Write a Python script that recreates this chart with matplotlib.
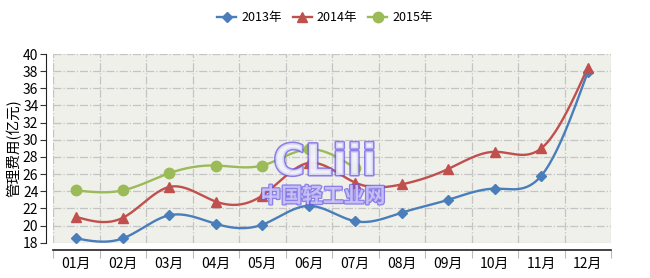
import numpy as np
import matplotlib
matplotlib.use("Agg")
import matplotlib.pyplot as plt
import matplotlib.patheffects as pe

plt.rcParams['font.family'] = ['Noto Sans CJK SC', 'DejaVu Sans']

months = ['01月', '02月', '03月', '04月', '05月', '06月', '07月', '08月', '09月', '10月', '11月', '12月']
series_names = ['2013年', '2014年', '2015年']
v2013 = [18.5, 18.5, 21.2, 20.2, 20.1, 22.3, 20.5, 21.5, 23.0, 24.3, 25.8, 37.9]
v2014 = [21.0, 20.9, 24.5, 22.8, 23.5, 27.3, 25.0, 24.8, 26.6, 28.6, 29.0, 38.4]
v2015 = [24.1, 24.1, 26.1, 27.0, 27.0, 28.9, 26.7]
yticks = list(range(18, 41, 2))
ylabel = '管理费用(亿元)'

colors = ['#4A7EBB', '#C0504D', '#9BBB59']
markers = ['D', '^', 'o']
msizes = [5, 7, 7.5]


def smooth(x, y, n=24):
    """Natural cubic spline through the data points, used only to draw the curve."""
    x = np.asarray(x, float); y = np.asarray(y, float)
    k = len(x)
    h = np.diff(x)
    A = np.zeros((k, k)); b = np.zeros(k)
    A[0, 0] = 1; A[-1, -1] = 1
    for i in range(1, k - 1):
        A[i, i - 1] = h[i - 1]; A[i, i] = 2 * (h[i - 1] + h[i]); A[i, i + 1] = h[i]
        b[i] = 3 * ((y[i + 1] - y[i]) / h[i] - (y[i] - y[i - 1]) / h[i - 1])
    c = np.linalg.solve(A, b)
    xs, ys = [], []
    for i in range(k - 1):
        bi = (y[i + 1] - y[i]) / h[i] - h[i] * (2 * c[i] + c[i + 1]) / 3
        di = (c[i + 1] - c[i]) / (3 * h[i])
        t = np.linspace(0, h[i], n, endpoint=(i == k - 2))
        xs.append(x[i] + t)
        ys.append(y[i] + bi * t + c[i] * t ** 2 + di * t ** 3)
    return np.concatenate(xs), np.concatenate(ys)


fig = plt.figure(figsize=(6.5, 2.78), dpi=100)
ax = fig.add_axes([53 / 650, (278 - 242.7) / 278, (611 - 53) / 650, (242.7 - 54) / 278])
ax.set_facecolor('#F0F0EA')

for vals, name, c, m, ms in zip([v2013, v2014, v2015], series_names, colors, markers, msizes):
    x = np.arange(len(vals))
    sx, sy = smooth(x, vals)
    ax.plot(sx, sy, color=c, lw=1.7, zorder=3, solid_capstyle='round')
    ax.plot(x, vals, linestyle='none', marker=m, ms=ms, color=c, zorder=4)
    ax.plot([], [], color=c, lw=1.7, marker=m, ms=ms, label=name)

ax.set_xlim(-0.5, len(months) - 0.5)
ax.set_ylim(18, 40)
ax.set_yticks(yticks)
ax.set_yticklabels([str(t) for t in yticks], fontsize=9.5)
ax.set_xticks(np.arange(len(months) + 1) - 0.5)
ax.set_xticklabels([])
ax.set_xticks(np.arange(len(months)), minor=True)
ax.set_xticklabels(months, minor=True, fontsize=9.5)
ax.tick_params(axis='x', which='major', direction='out', length=6, color='#BBBBBB')
ax.tick_params(axis='x', which='minor', length=0, pad=5)
ax.tick_params(axis='y', direction='out', length=4, color='#333333', pad=1.5)

ax.grid(True, which='major', color='#C4C4C4', linestyle='-.', linewidth=0.9)
ax.set_axisbelow(True)

for s in ['top', 'right']:
    ax.spines[s].set_visible(False)
ax.spines['left'].set_position(('outward', 5))
ax.spines['bottom'].set_position(('outward', 5))
ax.spines['left'].set_color('#222222')
ax.spines['bottom'].set_color('#222222')
ax.spines['bottom'].set_linewidth(1.2)

ax.set_ylabel(ylabel, fontsize=10.5, labelpad=1)

leg = fig.legend(loc='center', bbox_to_anchor=(0.5, 1 - 18 / 278), ncol=3, frameon=False,
                 fontsize=9, handlelength=1.5, columnspacing=0.9, handletextpad=0.4)

# watermark
fig.text(325 / 650, 1 - 163 / 278, 'CLiii', fontsize=31, fontweight='bold', color='#F2F2FA', alpha=0.75,
         ha='center', va='center', family='DejaVu Sans', zorder=10,
         path_effects=[pe.withStroke(linewidth=2.2, foreground='#6A5AE8')])
fig.text(323 / 650, 1 - 196 / 278, '中国轻工业网', fontsize=15, fontweight='bold', color='#D8D4F8', alpha=0.75,
         ha='center', va='center', zorder=10,
         path_effects=[pe.withStroke(linewidth=1.8, foreground='#6A5AE8')])

fig.savefig('out.png', dpi=100)
